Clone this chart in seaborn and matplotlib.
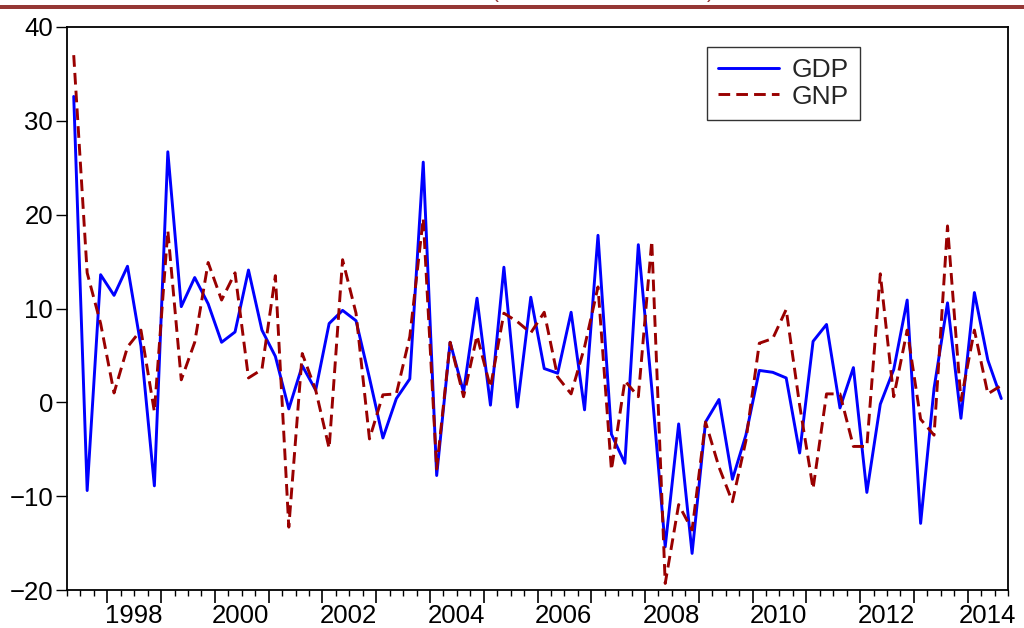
import numpy as np
import pandas as pd
import matplotlib
matplotlib.use("Agg")
import matplotlib.pyplot as plt
import matplotlib.transforms as mtransforms
from matplotlib.patches import Rectangle
import seaborn as sns

# ---------------------------------------------------------------------------
# Data: quarterly growth rates, 1997Q2 - 2014Q3
# ---------------------------------------------------------------------------
first_quarter = "1997Q2"
last_quarter = "2014Q3"

gdp = [32.6, -9.4, 13.6, 11.4, 14.5, 6.0, -8.9, 26.7, 10.2, 13.3,
       10.5, 6.4, 7.5, 14.1, 7.7, 4.9, -0.7, 3.9, 1.3, 8.4,
       9.8, 8.7, 2.6, -3.8, 0.4, 2.5, 25.6, -7.8, 6.4, 1.1,
       11.1, -0.3, 14.4, -0.5, 11.2, 3.6, 3.1, 9.6, -0.8, 17.8,
       -3.4, -6.5, 16.8, 1.5, -15.4, -2.3, -16.1, -2.1, 0.3, -8.2,
       -3.5, 3.4, 3.2, 2.6, -5.4, 6.5, 8.3, -0.6, 3.7, -9.6,
       -0.2, 3.5, 10.9, -12.9, 1.5, 10.6, -1.7, 11.7, 4.5, 0.4]

gnp = [37.0, 13.8, 8.4, 1.0, 5.9, 7.7, -1.0, 18.3, 2.4, 6.4,
       14.9, 10.9, 13.8, 2.6, 3.5, 13.5, -13.3, 5.2, 1.3, -4.9,
       15.2, 9.5, -3.9, 0.8, 0.9, 7.0, 19.6, -7.1, 6.4, 0.6,
       7.1, 1.6, 9.5, 8.6, 7.4, 9.6, 2.7, 0.9, 5.9, 12.3,
       -7.2, 2.3, 0.6, 17.2, -19.3, -10.9, -13.6, -2.1, -6.9, -10.6,
       -4.1, 6.3, 6.8, 9.9, -0.3, -9.2, 0.9, 0.9, -4.7, -4.7,
       13.7, 0.6, 7.7, -1.8, -3.5, 18.8, 0.2, 7.7, 0.9, 1.8]

series_names = ["GDP", "GNP"]
series_colors = {"GDP": "#0000FF", "GNP": "#990000"}
label_years = [1998, 2000, 2002, 2004, 2006, 2008, 2010, 2012, 2014]

# ---------------------------------------------------------------------------
# Build long dataframe (each quarter plotted at the middle of its interval)
# ---------------------------------------------------------------------------
periods = pd.period_range(first_quarter, last_quarter, freq="Q")
t = periods.year + (periods.quarter - 1) / 4 + 0.125
df = pd.DataFrame({"t": t, "GDP": gdp, "GNP": gnp})
long_df = df.melt(id_vars="t", var_name="series", value_name="value")

# ---------------------------------------------------------------------------
# Plot
# ---------------------------------------------------------------------------
sns.set_theme(style="white")
plt.rcParams["font.family"] = ["Liberation Sans", "DejaVu Sans"]

fig = plt.figure(figsize=(10.24, 6.28), dpi=100)
ax = fig.add_axes([67 / 1024, 1 - 590 / 628, 941 / 1024, 563 / 628])

sns.lineplot(data=long_df, x="t", y="value", hue="series", style="series",
             hue_order=series_names, style_order=series_names,
             palette=series_colors,
             dashes={"GDP": "", "GNP": (4.0, 2.1)},
             linewidth=2.1, ax=ax)

ax.set_xlim(periods[0].year + (periods[0].quarter - 1) / 4,
            periods[-1].year + periods[-1].quarter / 4)
ax.set_ylim(-20, 40)
ax.set_yticks([-20, -10, 0, 10, 20, 30, 40])
ax.set_xlabel("")
ax.set_ylabel("")

# year ticks (long) + quarter ticks (short); labels every 2 years, centred on year
years = list(range(1998, 2015))
ax.set_xticks(years)
ax.set_xticklabels([str(y) if y in label_years else "" for y in years])
ax.set_xticks(np.arange(1997.25, 2014.76, 0.25), minor=True)
ax.tick_params(axis="x", which="major", direction="out", length=9, width=1.2,
               labelsize=18.5, pad=1, colors="black")
ax.tick_params(axis="x", which="minor", direction="out", length=4, width=1.0,
               colors="black")
ax.tick_params(axis="y", which="major", direction="out", length=8, width=1.0,
               labelsize=18.5, pad=2, colors="black")
ax.tick_params(bottom=True, left=True, which="both")
ax.tick_params(which="minor", left=False)

for lab in ax.get_xticklabels():
    dx = 20 if lab.get_text() == "2014" else 26
    offset = mtransforms.ScaledTranslation(dx / 100, 0, fig.dpi_scale_trans)
    lab.set_transform(lab.get_transform() + offset)

for spine in ax.spines.values():
    spine.set_color("black")
    spine.set_linewidth(1.3)

leg = ax.legend(loc="upper left", bbox_to_anchor=(0.680, 0.9645), fontsize=19,
                frameon=True, fancybox=False, edgecolor="black",
                handlelength=2.3, handletextpad=0.5, borderpad=0.42,
                labelspacing=0.1, borderaxespad=0)
leg.get_frame().set_linewidth(1.0)
for h in leg.get_lines():
    h.set_linewidth(2.1)

# page decoration above the chart: dark red rule and clipped heading
fig.add_artist(Rectangle((0, 1 - 9 / 628), 1, 4 / 628,
                         transform=fig.transFigure, color="#953735", lw=0))
fig.text(495 / 1024, 1 + 2 / 628, "(", color="#953735", fontsize=15,
         ha="center", va="baseline")
fig.text(710 / 1024, 1 + 2 / 628, ")", color="#953735", fontsize=15,
         ha="center", va="baseline")

fig.savefig("out.png", dpi=100, facecolor="white")
